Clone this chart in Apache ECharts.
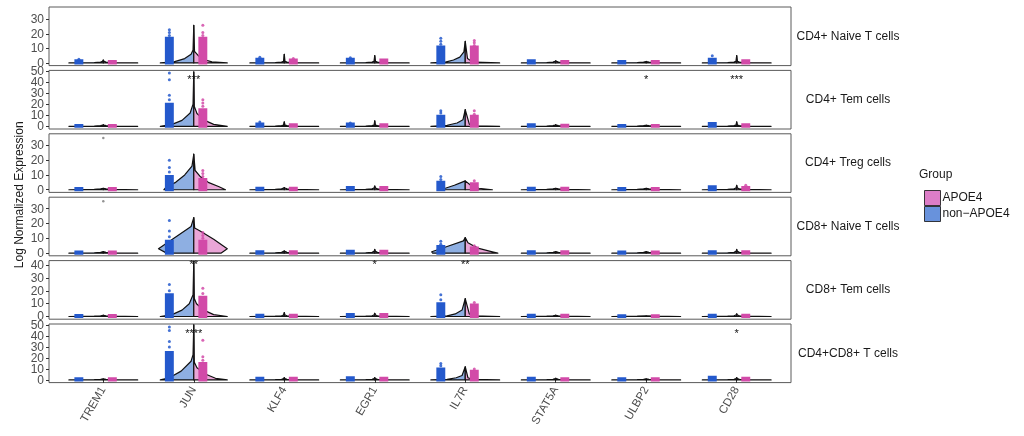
<!DOCTYPE html>
<html><head><meta charset="utf-8">
<script src="https://cdn.jsdelivr.net/npm/echarts@6/dist/echarts.min.js"></script>
<style>html,body{margin:0;padding:0;background:#fff}#c{width:1024px;height:436px}</style>
</head><body><div id="c"></div><script>
// ---------------- data ----------------
const genes = ['TREM1','JUN','KLF4','EGR1','IL7R','STAT5A','ULBP2','CD28'];
const cellTypes = ['CD4+ Naive T cells','CD4+ Tem cells','CD4+ Treg cells','CD8+ Naive T cells','CD8+ Tem cells','CD4+CD8+ T cells'];
const groups = ['APOE4','non\u2212APOE4'];
const yMin = [-1.85,-2.4,-1.8,-1.8,-2.1,-2.4];
const yMax = [38.7,50.4,37.8,37.8,43.6,50.8];
const yTicks = [[0,10,20,30],[0,10,20,30,40,50],[0,10,20,30],[0,10,20,30],[0,10,20,30,40],[0,10,20,30,40,50]];
// violin tip (max expression) per panel per gene
const violinTop = [
  [2,26,6,5,15,1.5,1,5],
  [1.5,49,4,5,15,1.5,1,4],
  [1,24,1.5,2.5,6,1,1,3],
  [1,24,1.5,2.5,10.5,1,1,2.5],
  [1,43,3,2.5,14,1,0.5,2],
  [1,50,2,2,12,1.5,1,2]
];
// violin half profiles [expression, half width]
const flatBody = [[0,0.38],[0.25,0.1],[0.6,0.03],[1.2,0.008]];
const junBlue = [
  [[0,0.37],[0.7,0.22],[3,0.1],[6,0.03],[9,0.008]],
  [[0,0.37],[1.8,0.24],[5.4,0.13],[12,0.04],[20,0.008]],
  [[0,0.33],[2,0.3],[5,0.2],[10,0.1],[16,0.02]],
  [[0,0.3],[3,0.39],[10,0.22],[18,0.03]],
  [[0,0.37],[1.5,0.24],[5,0.13],[10,0.05],[17,0.008]],
  [[0,0.37],[2,0.27],[8,0.14],[17,0.03],[23,0.008]]
];
const junPink = [
  [[0,0.37],[0.7,0.2],[2,0.13],[5,0.05],[8,0.008]],
  [[0,0.37],[1.8,0.22],[5.4,0.12],[11.5,0.035],[18,0.006]],
  [[0,0.35],[2,0.28],[5,0.16],[9,0.07],[13,0.015]],
  [[0,0.3],[3,0.37],[9.4,0.22],[15,0.07],[17,0.01]],
  [[0,0.37],[1.5,0.22],[5,0.11],[10,0.03],[14,0.006]],
  [[0,0.37],[1.5,0.24],[5,0.14],[11,0.035],[16,0.006]]
];
const il7rBlue = [
  [[0,0.38],[0.5,0.22],[2,0.13],[4,0.06],[7.6,0.015]],
  [[0,0.38],[1,0.2],[3,0.09],[6,0.025]],
  [[0,0.3],[1,0.22],[3,0.12],[5,0.04]],
  [[0,0.36],[0.9,0.37],[4.5,0.2],[8.3,0.02]],
  [[0,0.38],[0.5,0.2],[2,0.11],[5,0.035]],
  [[0,0.38],[0.5,0.2],[2,0.1],[4,0.035]]
];
const il7rPink = [
  [[0,0.38],[0.5,0.1],[1.2,0.07],[3,0.025]],
  [[0,0.38],[0.5,0.1],[2,0.045]],
  [[0,0.3],[1,0.15],[3,0.06]],
  [[0,0.36],[0.9,0.3],[3,0.16],[5,0.09],[7,0.03]],
  [[0,0.38],[0.5,0.1],[2,0.045]],
  [[0,0.38],[0.5,0.08],[2,0.03]]
];
// dense part of the jittered points (top value) per panel per gene
const blueDense = [
  [1.5,17,2.5,2.5,11,1.5,1,2.5],
  [0.8,20,2,2,9,1.5,0.8,2.5],
  [0.8,9,1,1.5,5,1,0.8,2],
  [0.8,8,1,1.2,4.5,1,0.8,1],
  [0.8,17,1,1.5,10,1,0.5,1],
  [1,25,1.5,2,10,1.5,1,2.5]
];
const pinkDense = [
  [1,17,2,2,11,1,1,1.5],
  [0.8,15,1.5,1.5,9,1,0.8,1.5],
  [0.8,7,1,1.5,4,1,0.8,1.5],
  [0.8,8,1,1.2,3.5,1,0.8,1],
  [0.8,15,1,1.5,9,1,0.5,1],
  [1,15,1.5,1.5,8,1,1,1.5]
];
// scattered points above the dense part: [gene index, expression]
const blueOutliers = [
  [[0,2.5],[1,19],[1,21],[1,23],[2,4],[3,3.5],[4,13],[4,15],[4,17],[7,5]],
  [[1,24],[1,28],[1,42],[1,48],[4,12],[4,14],[2,4],[3,3]],
  [[1,12],[1,15],[1,20],[4,7],[4,9]],
  [[1,11],[1,15],[1,22],[4,6],[4,8]],
  [[1,20],[1,25],[4,13],[4,17]],
  [[1,30],[1,35],[1,45],[1,48],[4,13],[4,15]]
];
const pinkOutliers = [
  [[1,19],[1,21],[1,26],[4,12],[4,14],[4,15.5],[2,3]],
  [[1,18],[1,21],[1,24],[4,11],[4,14]],
  [[1,9],[1,11],[1,13],[4,6],[7,3]],
  [[1,10],[1,12],[1,14],[4,5]],
  [[1,18],[1,22],[4,11]],
  [[1,18],[1,21],[1,36],[4,10]]
];
// lone grey points at TREM1 near the top of two panels: [panel, expression]
const loneTrem1 = [[2,35],[3,35]];
// significance labels: [gene index, label, y]
const stars = [
  [],
  [[1,'***',42],[6,'*',42],[7,'***',42]],
  [],
  [],
  [[1,'**',40.5],[3,'*',40.5],[4,'**',40.5]],
  [[1,'****',41.5],[7,'*',41.5]]
];

// ---------------- layout / style ----------------
const FONT = "'Liberation Sans', Arial, sans-serif";
const X0 = 49, X1 = 791, TOP0 = 7, PITCH = 63.4, PH = 58.6;
const BLUE_OFF = -0.27, PINK_OFF = 0.10, JIT = 0.035;
const BLUE_PT = '#2459cc', PINK_PT = '#d24aa8';
const BLUE_FILL = '#8eafe2', PINK_FILL = '#eaa6d7';

const chart = echarts.init(document.getElementById('c'), null, {renderer: 'canvas'});
const grids = [], xAxes = [], yAxes = [], series = [], graphics = [];

function halfPts(api, g, prof, top, side) {
  const pts = [api.coord([g, 0])];
  prof.forEach(p => { if (p[0] < top) pts.push(api.coord([g + side * p[1], p[0]])); });
  pts.push(api.coord([g, top]));
  return pts;
}
function denseRect(api, x, top, color) {
  const a = api.coord([x - JIT, top]);
  const b = api.coord([x + JIT, 0]);
  return {type: 'rect', shape: {x: a[0] - 1.3, y: a[1] - 1.5, width: b[0] - a[0] + 2.6, height: b[1] - a[1] + 3},
    style: {fill: color}};
}

cellTypes.forEach((ct, p) => {
  const top = TOP0 + p * PITCH;
  const last = p === cellTypes.length - 1;
  grids.push({left: X0, width: X1 - X0, top: top, height: PH, show: true, borderColor: '#5a5a5a', borderWidth: 1, containLabel: false});
  xAxes.push({type: 'value', gridIndex: p, min: 0.4, max: 8.6, show: last,
    axisLine: {show: false}, splitLine: {show: false},
    axisTick: {show: last, length: 3, customValues: [1,2,3,4,5,6,7,8], lineStyle: {color: '#333'}},
    axisLabel: {show: last, customValues: [1,2,3,4,5,6,7,8], formatter: v => genes[Math.round(v) - 1] || '',
      rotate: 60, fontSize: 11.5, color: '#4d4d4d', fontFamily: FONT, margin: 5, hideOverlap: false}});
  yAxes.push({type: 'value', gridIndex: p, min: yMin[p], max: yMax[p],
    axisLine: {show: false}, splitLine: {show: false},
    axisTick: {show: true, length: 3, customValues: yTicks[p], lineStyle: {color: '#333'}},
    axisLabel: {show: false}});

  // y tick labels (drawn through the axis scale so none are dropped when they touch)
  series.push({type: 'custom', xAxisIndex: p, yAxisIndex: p, silent: true, clip: false,
    data: yTicks[p].map(v => [0.4, v]),
    renderItem: (params, api) => {
      const c = api.coord([api.value(0), api.value(1)]);
      return {type: 'text', x: c[0] - 5, y: c[1] + 0.5,
        style: {text: String(api.value(1)), fill: '#4d4d4d', fontSize: 12, fontFamily: FONT, align: 'right', verticalAlign: 'middle'}};
    }});

  series.push({
    type: 'custom', xAxisIndex: p, yAxisIndex: p, clip: true, silent: true,
    data: genes.map((g, i) => [i + 1, 0]),
    renderItem: (params, api) => {
      const i = params.dataIndex, g = i + 1, t = violinTop[p][i];
      const bProf = i === 1 ? junBlue[p] : i === 4 ? il7rBlue[p] : flatBody;
      const pProf = i === 1 ? junPink[p] : i === 4 ? il7rPink[p] : flatBody;
      const children = [
        {type: 'polygon', shape: {points: halfPts(api, g, bProf, t, -1)},
          style: {fill: BLUE_FILL, stroke: '#111', lineWidth: 1.2, lineJoin: 'round'}},
        {type: 'polygon', shape: {points: halfPts(api, g, pProf, t, 1)},
          style: {fill: PINK_FILL, stroke: '#111', lineWidth: 1.2, lineJoin: 'round'}},
        denseRect(api, g + BLUE_OFF, blueDense[p][i], BLUE_PT),
        denseRect(api, g + PINK_OFF, pinkDense[p][i], PINK_PT)
      ];
      return {type: 'group', children};
    }
  });
  series.push({type: 'scatter', name: groups[1], xAxisIndex: p, yAxisIndex: p, silent: true,
    symbolSize: 3, itemStyle: {color: BLUE_PT, opacity: 0.85},
    data: blueOutliers[p].map(d => [d[0] + 1 + BLUE_OFF, d[1]])});
  series.push({type: 'scatter', name: groups[0], xAxisIndex: p, yAxisIndex: p, silent: true,
    symbolSize: 3, itemStyle: {color: PINK_PT, opacity: 0.85},
    data: pinkOutliers[p].map(d => [d[0] + 1 + PINK_OFF, d[1]])});
  series.push({type: 'scatter', xAxisIndex: p, yAxisIndex: p, silent: true,
    symbolSize: 2.5, itemStyle: {color: '#777'},
    data: loneTrem1.filter(d => d[0] === p).map(d => [1, d[1]])});
  series.push({type: 'custom', xAxisIndex: p, yAxisIndex: p, silent: true, clip: false,
    data: stars[p].map(s => [s[0] + 1, s[2]]),
    renderItem: (params, api) => {
      const c = api.coord([api.value(0), api.value(1)]);
      return {type: 'text', x: c[0], y: c[1],
        style: {text: stars[p][params.dataIndex][1], fill: '#111', fontSize: 11, fontFamily: FONT, align: 'center', verticalAlign: 'middle'}};
    }});

  graphics.push({type: 'text', x: 848, y: top + PH / 2,
    style: {text: ct, fill: '#1a1a1a', fontSize: 12, fontFamily: FONT, align: 'center', verticalAlign: 'middle'}});
});

graphics.push({type: 'text', x: 20, y: TOP0 + (5 * PITCH + PH) / 2, rotation: Math.PI / 2,
  style: {text: 'Log Normalized Expression', fill: '#1a1a1a', fontSize: 12, fontFamily: FONT, align: 'center', verticalAlign: 'middle'}});
graphics.push({type: 'text', x: 919, y: 175,
  style: {text: 'Group', fill: '#1a1a1a', fontSize: 12, fontFamily: FONT, align: 'left', verticalAlign: 'middle'}});

chart.setOption({
  animation: false,
  backgroundColor: '#fff',
  grid: grids, xAxis: xAxes, yAxis: yAxes, series: series,
  graphic: graphics,
  legend: {orient: 'vertical', left: 919, top: 185, itemWidth: 16, itemHeight: 15, itemGap: 0, icon: 'rect',
    selectedMode: false,
    textStyle: {fontSize: 12, color: '#1a1a1a', fontFamily: FONT, padding: [0, 0, 0, -3]},
    data: [
      {name: groups[0], itemStyle: {color: '#d766bd', borderColor: '#1a1a1a', borderWidth: 1}},
      {name: groups[1], itemStyle: {color: '#4d7fd6', borderColor: '#1a1a1a', borderWidth: 1}}
    ]}
});
</script></body></html>
